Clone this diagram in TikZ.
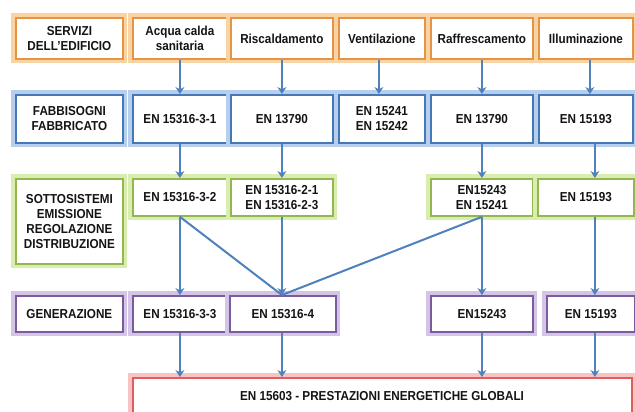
\documentclass[tikz,border=0pt]{standalone}
\usepackage{fontspec}
\setmainfont{Liberation Sans}[FakeStretch=0.9]
\usetikzlibrary{arrows.meta}
\definecolor{orB}{HTML}{E39447}\definecolor{orG}{HTML}{FAD3A3}
\definecolor{blB}{HTML}{4678B5}\definecolor{blG}{HTML}{B7CFEE}
\definecolor{grB}{HTML}{93B64E}\definecolor{grG}{HTML}{D9EEAE}
\definecolor{puB}{HTML}{7A5C9C}\definecolor{puG}{HTML}{D3C4E8}
\definecolor{rdB}{HTML}{DE5E5E}\definecolor{rdG}{HTML}{F8C3C3}
\definecolor{arrC}{HTML}{4F81BD}
\definecolor{txt}{HTML}{141414}
\tikzset{
  bx/.style 2 args={draw=#1, line width=1.8pt, fill=white,
    preaction={draw=#2, line width=9pt},
    anchor=north west, inner sep=0pt, align=center, text=txt,
    font=\bfseries\fontsize{13}{15}\selectfont},
  sv/.style={bx={orB}{orG}},
  fb/.style={bx={blB}{blG}},
  ss/.style={bx={grB}{grG}},
  gn/.style={bx={puB}{puG}},
  pg/.style={bx={rdB}{rdG}},
  arr/.style={draw=arrC, line width=2pt, -{Stealth[length=7pt,width=9pt]}},
  ln/.style={draw=arrC, line width=2pt},
}
\begin{document}
\begin{tikzpicture}[x=1pt,y=-1pt]
\useasboundingbox[fill=white] (0,0) rectangle (635,412);
\clip (0,0) rectangle (635,412);
% row 1
\node[sv, minimum width=107pt, minimum height=41pt] (a0) at (15,17) {SERVIZI\\DELL’EDIFICIO};
\node[sv, minimum width=94pt, minimum height=41pt] (a1) at (132,17) {Acqua calda\\sanitaria};
\node[sv, minimum width=102pt, minimum height=41pt] (a2) at (230,17) {Riscaldamento};
\node[sv, minimum width=86pt, minimum height=41pt] (a3) at (338,17) {Ventilazione};
\node[sv, minimum width=102pt, minimum height=41pt] (a4) at (430,17) {Raffrescamento};
\node[sv, minimum width=94pt, minimum height=41pt] (a5) at (538,17) {Illuminazione};
% row 2
\node[fb, minimum width=107pt, minimum height=48pt] (b0) at (15,94) {FABBISOGNI\\FABBRICATO};
\node[fb, minimum width=94pt, minimum height=48pt] (b1) at (132,94) {EN 15316-3-1};
\node[fb, minimum width=102pt, minimum height=48pt] (b2) at (230,94) {EN 13790};
\node[fb, minimum width=86pt, minimum height=48pt] (b3) at (338,94) {EN 15241\\EN 15242};
\node[fb, minimum width=102pt, minimum height=48pt] (b4) at (430,94) {EN 13790};
\node[fb, minimum width=94pt, minimum height=48pt] (b5) at (538,94) {EN 15193};
% row 3
\node[ss, minimum width=107pt, minimum height=85pt] (c0) at (15,178) {SOTTOSISTEMI\\EMISSIONE\\REGOLAZIONE\\DISTRIBUZIONE};
\node[ss, minimum width=94pt, minimum height=37pt] (c1) at (132,178) {EN 15316-3-2};
\node[ss, minimum width=102pt, minimum height=37pt] (c2) at (230,178) {EN 15316-2-1\\EN 15316-2-3};
\node[ss, minimum width=102pt, minimum height=37pt] (c4) at (430,178) {EN15243\\EN 15241};
\node[ss, minimum width=96pt, minimum height=37pt] (c5) at (537,178) {EN 15193};
% row 4
\node[gn, minimum width=107pt, minimum height=36pt] (d0) at (15,295) {GENERAZIONE};
\node[gn, minimum width=94pt, minimum height=36pt] (d1) at (132,295) {EN 15316-3-3};
\node[gn, minimum width=106pt, minimum height=36pt] (d2) at (229,295) {EN 15316-4};
\node[gn, minimum width=102pt, minimum height=36pt] (d4) at (430,295) {EN15243};
\node[gn, minimum width=88pt, minimum height=36pt] (d5) at (546,295) {EN 15193};
% row 5
\node[pg, minimum width=499pt, minimum height=46pt] (e) at (132,377) {};
\node[anchor=center, text=txt, font=\bfseries\fontsize{13}{15}\selectfont] (et) at (382,396) {EN 15603 - PRESTAZIONI ENERGETICHE GLOBALI};
% arrows row1 -> row2
\foreach \i in {1,2,4} { \draw[arr] (a\i.south) -- (b\i.north); }
\draw[arr] ([xshift=-3pt]a3.south) -- ([xshift=-3pt]b3.north);
\draw[arr] ([xshift=4pt]a5.south) -- ([xshift=4pt]b5.north);
% row2 -> row3
\foreach \i in {1,2,4} { \draw[arr] (b\i.south) -- (b\i.south |- c\i.north); }
\draw[arr] ([xshift=9pt]b5.south) -- ([xshift=9pt]b5.south |- c5.north);
% row3 -> row4
\draw[arr] (c1.south) -- (c1.south |- d1.north);
\draw[ln] (c1.south) -- (c2.south |- d2.north);
\draw[ln] (c4.south) -- (c2.south |- d2.north);
\draw[arr] (c2.south) -- (c2.south |- d2.north);
\draw[arr] (c4.south) -- (c4.south |- d4.north);
\draw[arr] ([xshift=9pt]c5.south) -- ([xshift=9pt]c5.south |- d5.north);
% row4 -> row5
\draw[arr] (d1.south) -- (d1.south |- e.north);
\draw[arr] (c2.south |- d2.south) -- (c2.south |- e.north);
\draw[arr] (d4.south) -- (d4.south |- e.north);
\draw[arr] ([xshift=9pt]c5.south |- d5.south) -- ([xshift=9pt]c5.south |- e.north);
\end{tikzpicture}
\end{document}
